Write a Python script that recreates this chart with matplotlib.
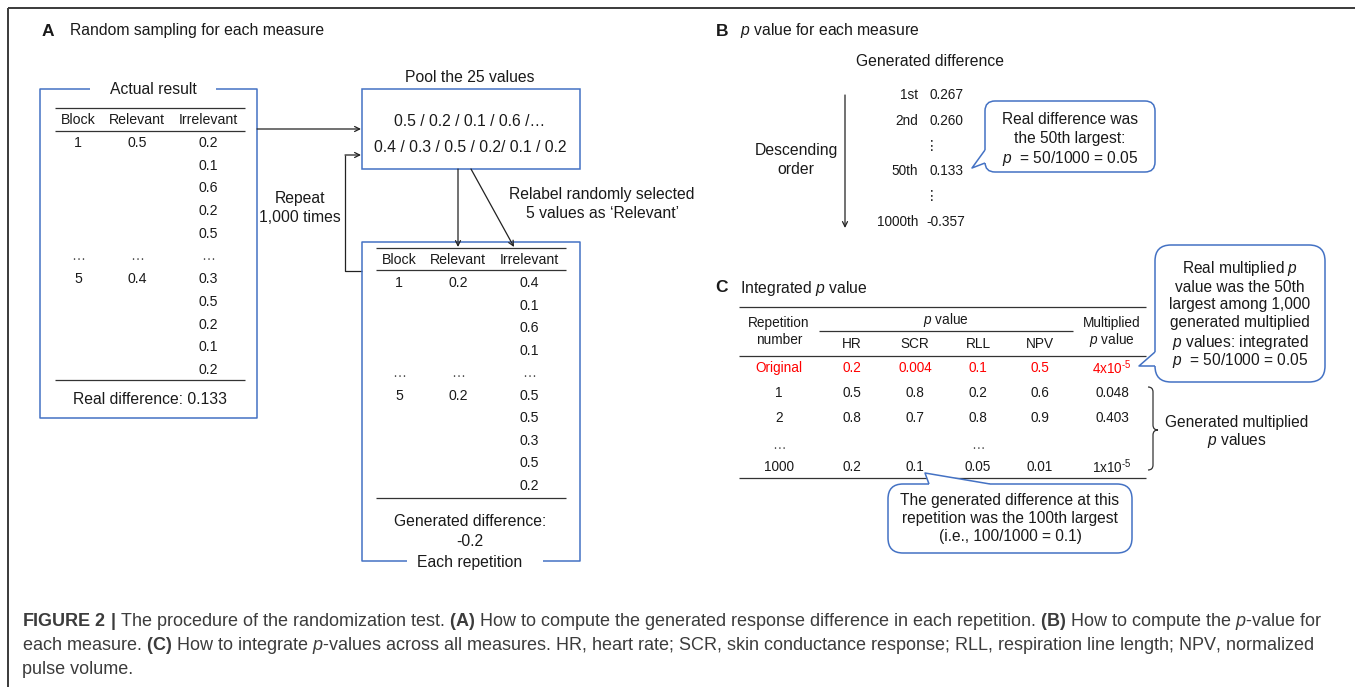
import matplotlib
matplotlib.use('Agg')
import matplotlib.pyplot as plt
from matplotlib.patches import FancyBboxPatch, Polygon, PathPatch
from matplotlib.path import Path

plt.rcParams['font.family'] = ['Liberation Sans', 'DejaVu Sans']
plt.rcParams['mathtext.fontset'] = 'custom'
plt.rcParams['mathtext.rm'] = 'Liberation Sans'
plt.rcParams['mathtext.it'] = 'Liberation Sans:italic'
plt.rcParams['mathtext.bf'] = 'Liberation Sans:bold'

# ---------------- data ----------------
table_columns = ['Block', 'Relevant', 'Irrelevant']
actual_block = ['1', '…', '5']
actual_relevant = ['0.5', '…', '0.4']
actual_irrelevant = ['0.2', '0.1', '0.6', '0.2', '0.5', '…', '0.3', '0.5', '0.2', '0.1', '0.2']
real_difference = '0.133'
pool_values_line1 = '0.5 / 0.2 / 0.1 / 0.6 /…'
pool_values_line2 = '0.4 / 0.3 / 0.5 / 0.2/ 0.1 / 0.2'
rep_block = ['1', '…', '5']
rep_relevant = ['0.2', '…', '0.2']
rep_irrelevant = ['0.4', '0.1', '0.6', '0.1', '…', '0.5', '0.5', '0.3', '0.5', '0.2']
generated_difference = '-0.2'

ranks = ['1st', '2nd', '50th', '1000th']
rank_values = ['0.267', '0.260', '0.133', '-0.357']

measures = ['HR', 'SCR', 'RLL', 'NPV']
rep_numbers = ['Original', '1', '2', '…', '1000']
p_hr = ['0.2', '0.5', '0.8', '', '0.2']
p_scr = ['0.004', '0.8', '0.7', '', '0.1']
p_rll = ['0.1', '0.2', '0.8', '…', '0.05']
p_npv = ['0.5', '0.6', '0.9', '', '0.01']
multiplied = [r'4x10$^{\text{-5}}$', '0.048', '0.403', '', r'1x10$^{\text{-5}}$']

caption_lines = [
    r"$\mathbf{FIGURE\ 2\ |}$ The procedure of the randomization test. $\mathbf{(A)}$ How to compute the generated response difference in each repetition. $\mathbf{(B)}$ How to compute the $p$-value for",
    r"each measure. $\mathbf{(C)}$ How to integrate $p$-values across all measures. HR, heart rate; SCR, skin conductance response; RLL, respiration line length; NPV, normalized",
    "pulse volume.",
]

# ---------------- style ----------------
BLUE = '#4472C4'
RED = '#FF0000'
TXT = '#1a1a1a'
RULE = '#333333'
S_TITLE = 11.3
S_TAB = 10.2
S_C = 9.8
S_BUB = 11.2

fig = plt.figure(figsize=(13.55, 6.87), dpi=100)
ax = fig.add_axes([0, 0, 1, 1])
ax.set_xlim(0, 1355)
ax.set_ylim(687, 0)
ax.axis('off')


def T(x, y, s, size=S_TITLE, ha='center', color=TXT, **kw):
    ax.text(x, y, s, fontsize=size, ha=ha, va='center', color=color, **kw)


def L(xs, ys, color=RULE, lw=0.9, **kw):
    ax.plot(xs, ys, color=color, lw=lw, solid_capstyle='butt', **kw)


def arrow(x0, y0, x1, y1):
    ax.annotate('', xy=(x1, y1), xytext=(x0, y0),
                arrowprops=dict(arrowstyle='->', lw=0.9, color='#222222',
                                shrinkA=0, shrinkB=0, mutation_scale=9))


def bubble(x0, y0, x1, y1, r, edge1, tip, edge2, in1, in2):
    box = FancyBboxPatch((x0, y0), x1 - x0, y1 - y0,
                         boxstyle=f"round,pad=0,rounding_size={r}",
                         fc='white', ec=BLUE, lw=1.1, zorder=3)
    ax.add_patch(box)
    ax.add_patch(Polygon([in1, edge1, tip, edge2, in2], closed=True,
                         fc='white', ec='none', zorder=4))
    L([edge1[0], tip[0], edge2[0]], [edge1[1], tip[1], edge2[1]],
      color=BLUE, lw=1.1, zorder=5)


# outer frame
L([8, 8], [8, 687], color='#3a3a3a', lw=1.4)
L([8, 1355], [8, 8], color='#3a3a3a', lw=1.4)

# ================= Panel A =================
T(42, 32, 'A', size=12.5, ha='left', weight='bold')
T(70, 31, 'Random sampling for each measure', ha='left')

# actual result box (gap on top for the title)
L([90, 40, 40, 257, 257, 216], [89, 89, 418, 418, 89, 89], color=BLUE, lw=1.1)
T(153, 89, 'Actual result')
col_x_a = [78, 137, 208]
L([55, 245], [108, 108])
for cx, name in zip(col_x_a, table_columns):
    T(cx, 120, name, size=S_TAB)
L([55, 245], [131, 131])
row0, dy = 143, 22.7
block_rows = [0, 5, 6]
for r, b, rv in zip(block_rows, actual_block, actual_relevant):
    c = '#555555' if b == '…' else TXT
    T(col_x_a[0], row0 + r * dy, b, size=S_TAB, color=c)
    T(col_x_a[1], row0 + r * dy, rv, size=S_TAB, color=c)
for i, v in enumerate(actual_irrelevant):
    c = '#555555' if v == '…' else TXT
    T(col_x_a[2], row0 + i * dy, v, size=S_TAB, color=c)
L([55, 245], [380, 380])
T(150, 400, 'Real difference: ' + real_difference)

# pool box
ax.add_patch(plt.Rectangle((362, 89), 218, 80, fc='none', ec=BLUE, lw=1.1))
T(470, 78, 'Pool the 25 values')
T(470, 122, pool_values_line1)
T(470, 148, pool_values_line2)

# arrows between boxes
arrow(257, 129, 361, 129)
L([362, 345, 345], [271, 271, 155], color='#222222', lw=0.9)
arrow(345, 155, 361, 155)
T(300, 199, 'Repeat')
T(300, 218, '1,000 times')
arrow(458, 169, 458, 247)
arrow(471, 169, 514, 247)
T(602, 194, 'Relabel randomly selected')
T(602, 214, '5 values as ‘Relevant’')

# repetition box (gap at bottom for the title)
L([407, 362, 362, 580, 580, 543], [561, 561, 242, 242, 561, 561], color=BLUE, lw=1.1)
T(470, 562, 'Each repetition')
col_x_r = [399, 458, 529]
L([376, 566], [248, 248])
for cx, name in zip(col_x_r, table_columns):
    T(cx, 260, name, size=S_TAB)
L([376, 566], [270, 270])
row0r, dyr = 283, 22.55
block_rows_r = [0, 4, 5]
for r, b, rv in zip(block_rows_r, rep_block, rep_relevant):
    c = '#555555' if b == '…' else TXT
    T(col_x_r[0], row0r + r * dyr, b, size=S_TAB, color=c)
    T(col_x_r[1], row0r + r * dyr, rv, size=S_TAB, color=c)
for i, v in enumerate(rep_irrelevant):
    c = '#555555' if v == '…' else TXT
    T(col_x_r[2], row0r + i * dyr, v, size=S_TAB, color=c)
L([376, 566], [498, 498])
T(470, 522, 'Generated difference:')
T(470, 541, generated_difference)

# ================= Panel B =================
T(716, 32, 'B', size=12.5, ha='left', weight='bold')
T(740, 31, r'$p$ value for each measure', ha='left')
T(930, 62, 'Generated difference')
arrow(845, 95, 845, 228)
T(796, 150, 'Descending')
T(796, 169, 'order')
rank_y = [95, 121, 171, 222]
for y, rk, v in zip(rank_y, ranks, rank_values):
    T(918, y, rk, size=S_C, ha='right')
    T(929 if not v.startswith('-') else 926.5, y, v, size=S_C, ha='left')
for y in [146, 196]:
    T(932, y, '⋮', size=S_C, family=['DejaVu Sans'])

bubble(985, 101, 1155, 172, 10,
       (985, 150), (972, 168), (985, 163), (990, 150), (990, 163))
T(1070, 120, 'Real difference was', size=S_BUB, zorder=6)
T(1070, 139, 'the 50th largest:', size=S_BUB, zorder=6)
T(1070, 158, r'$p$  = 50/1000 = 0.05', size=S_BUB, zorder=6)

# ================= Panel C =================
T(715, 288, 'C', size=12.5, ha='left', weight='bold')
T(740, 288, r'Integrated $p$ value', ha='left')
L([739, 1146], [307, 307])
T(779, 323, 'Repetition', size=S_C)
T(779, 340, 'number', size=S_C)
T(946, 320, r'$p$ value', size=S_C)
L([819, 1073], [331, 331])
col_x_c = [852, 915, 978, 1040]
for cx, m in zip(col_x_c, measures):
    T(cx, 344, m, size=S_C)
T(1112, 323, 'Multiplied', size=S_C)
T(1112, 340, r'$p$ value', size=S_C)
L([739, 1146], [356, 356])
row_y_c = [368, 393, 418, 445, 467]
for i, y in enumerate(row_y_c):
    c = RED if i == 0 else TXT
    if rep_numbers[i] == '…':
        c = '#555555'
    T(779, y, rep_numbers[i], size=S_C, color=c)
    for cx, col in zip(col_x_c, [p_hr, p_scr, p_rll, p_npv]):
        if col[i]:
            cc = '#555555' if col[i] == '…' else (RED if i == 0 else TXT)
            T(cx, y, col[i], size=S_C, color=cc)
    if multiplied[i]:
        T(1112, y, multiplied[i], size=S_C, color=RED if i == 0 else TXT)
L([739, 1146], [478, 478])

# brace
bx, btop, bbot, bmid = 1148, 387, 470, 430
verts = [(bx, btop), (bx + 5, btop), (bx + 5, btop + 5),
         (bx + 5, bmid - 5), (bx + 5, bmid), (bx + 10, bmid),
         (bx + 5, bmid), (bx + 5, bmid + 5),
         (bx + 5, bbot - 5), (bx + 5, bbot), (bx, bbot)]
codes = [Path.MOVETO, Path.CURVE3, Path.CURVE3,
         Path.LINETO, Path.CURVE3, Path.CURVE3,
         Path.CURVE3, Path.CURVE3,
         Path.LINETO, Path.CURVE3, Path.CURVE3]
ax.add_patch(PathPatch(Path(verts, codes), fc='none', ec='#333333', lw=0.9))
T(1237, 422, 'Generated multiplied', size=S_BUB)
T(1237, 440, r'$p$ values', size=S_BUB)

# top-right callout
bubble(1155, 245, 1325, 382, 16,
       (1155, 352), (1139, 366), (1155, 366), (1160, 352), (1160, 366))
for y, s in zip([268, 287, 305, 323, 342, 360],
                [r'Real multiplied $p$', 'value was the 50th', 'largest among 1,000',
                 'generated multiplied', r'$p$ values: integrated',
                 r'$p$  = 50/1000 = 0.05']):
    T(1240, y, s, size=S_BUB, zorder=6)

# bottom callout
bubble(888, 484, 1132, 553, 15,
       (929, 484), (925, 473), (990, 484), (929, 489), (990, 489))
T(1010, 501, 'The generated difference at this', size=S_BUB, zorder=6)
T(1010, 519, 'repetition was the 100th largest', size=S_BUB, zorder=6)
T(1010, 537, '(i.e., 100/1000 = 0.1)', size=S_BUB, zorder=6)

# ================= Caption =================
for y, s in zip([622, 646, 669], caption_lines):
    T(22, y, s, size=12.95, ha='left', color='#3c3c3c')

fig.savefig('out.png', dpi=100)
